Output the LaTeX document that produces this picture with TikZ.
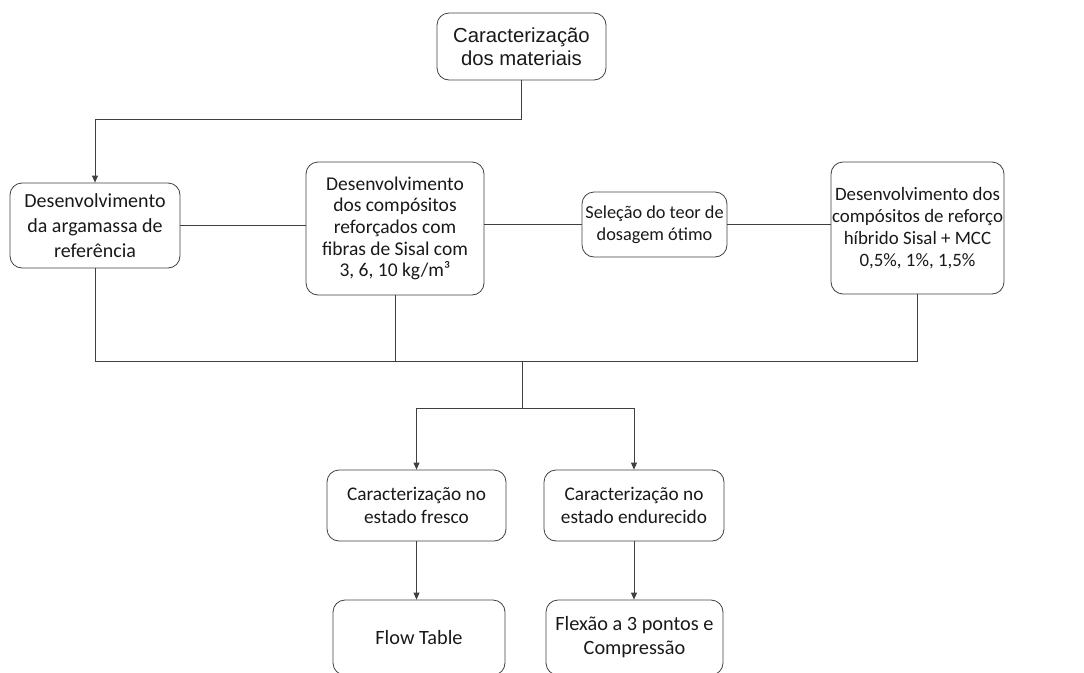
\documentclass[tikz,border=0pt]{standalone}
\usepackage{fontspec}
\setmainfont{Carlito}
\newfontfamily\arialfont{Liberation Sans}
\usepackage{tikz}
\usetikzlibrary{positioning, arrows.meta, calc}
\definecolor{linegray}{rgb}{0.25, 0.25, 0.25}
\definecolor{textgray}{rgb}{0.1, 0.1, 0.1}

\tikzset{
  etapa/.style={draw=linegray, line width=0.8pt, rounded corners=12pt, align=center,
    inner sep=1pt, text=textgray, font=\fontsize{19.5}{22.5}\selectfont},
  tam/.style 2 args={font=\fontsize{#1}{#2}\selectfont},
  liga/.style={draw=linegray, line width=0.8pt},
  seta/.style={liga, -{Triangle[length=7pt,width=6pt]}}
}

\begin{document}
\begin{tikzpicture}[x=1pt, y=-1pt]
  \useasboundingbox (0,0) rectangle (1084,672);

  % etapas do programa experimental
  \node[etapa, minimum width=169pt, minimum height=67pt, font=\arialfont\fontsize{20.3}{22.6}\selectfont] (mat) at (521.5,46.5) {Caracterização\\dos materiais};
  \node[etapa, tam={20}{25}, minimum width=170pt, minimum height=85pt] (ref) at (95,225.5) {Desenvolvimento\\da argamassa de\\referência};
  \node[etapa, tam={19.5}{21.7}, minimum width=178pt, minimum height=133pt] (comp) at (395,228.5) {Desenvolvimento\\dos compósitos\\reforçados com\\fibras de Sisal com\\3, 6, 10 kg/m³};
  \node[etapa, tam={18.3}{21.7}, minimum width=145pt, minimum height=65pt] (sel) at (654.5,224.5) {Seleção do teor de\\dosagem ótimo};
  \node[etapa, tam={18.9}{22.2}, minimum width=169pt, minimum height=132pt] (hib) at (917.5,228) {Desenvolvimento dos\\compósitos de reforço\\híbrido Sisal + MCC\\0,5\%, 1\%, 1,5\%};

  \node[etapa, tam={19.3}{23.5}, minimum width=179pt, minimum height=71pt] (fre) at (416.5,505.5) {Caracterização no\\estado fresco};
  \node[etapa, tam={19.3}{23.5}, minimum width=180pt, minimum height=71pt] (end) at (634,505.5) {Caracterização no\\estado endurecido};
  \node[etapa, tam={20.3}{24}, minimum width=172pt, minimum height=75pt] (flow) at (419,637.5) {Flow Table};
  \node[etapa, tam={20.3}{24}, minimum width=177pt, minimum height=75pt] (flex) at (634.5,637.5) {Flexão a 3 pontos e\\Compressão};

  % ligacoes
  \coordinate (topo) at (0,119);
  \coordinate (bus) at (522,361);
  \coordinate (split) at (522,408);

  \draw[seta] (mat.south) -- (mat.south |- topo) -| (ref.north);
  \draw[liga] (ref.east) -- (ref.east -| comp.west);
  \draw[liga] (sel.west -| comp.east) -- (sel.west);
  \draw[liga] (sel.east) -- (sel.east -| hib.west);

  \draw[liga] (ref.south) |- (hib.south |- bus) -- (hib.south);
  \draw[liga] (comp.south) -- (comp.south |- bus);
  \draw[liga] (bus) -- (split);
  \draw[seta] (split) -| (fre.north);
  \draw[seta] (split) -| (end.north);

  \draw[seta] (fre.south) -- (fre.south |- flow.north);
  \draw[seta] (end.south) -- (end.south |- flex.north);
\end{tikzpicture}
\end{document}
